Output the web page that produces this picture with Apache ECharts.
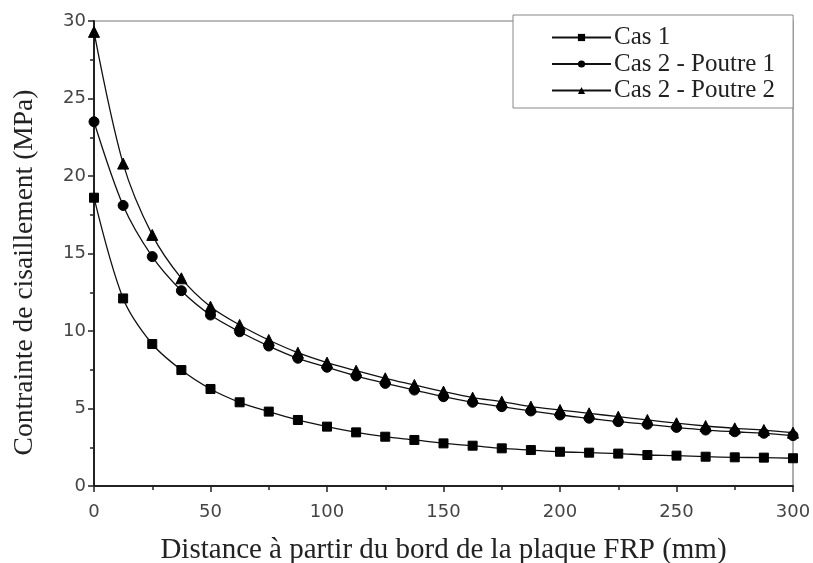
<!DOCTYPE html>
<html>
<head>
<meta charset="utf-8">
<script src="https://cdn.jsdelivr.net/npm/echarts@6/dist/echarts.min.js"></script>
<style>
  html, body { margin: 0; padding: 0; background: #fff; }
  #chart { width: 813px; height: 563px; }
</style>
</head>
<body>
<div id="chart"></div>
<script>
// Distance from the FRP plate edge (mm)
const distances = [0, 12.5, 25, 37.5, 50, 62.5, 75, 87.5, 100, 112.5, 125, 137.5, 150,
  162.5, 175, 187.5, 200, 212.5, 225, 237.5, 250, 262.5, 275, 287.5, 300];

// Shear stress (MPa)
const cas1 = [18.6, 12.1, 9.16, 7.48, 6.26, 5.4, 4.8, 4.26, 3.83, 3.46, 3.18, 2.97, 2.75,
  2.6, 2.43, 2.32, 2.21, 2.15, 2.09, 2.0, 1.96, 1.89, 1.85, 1.83, 1.79];
const cas2Poutre1 = [23.5, 18.1, 14.8, 12.6, 11.03, 9.95, 9.03, 8.24, 7.66, 7.1, 6.62, 6.19, 5.76,
  5.4, 5.12, 4.84, 4.58, 4.37, 4.15, 3.98, 3.78, 3.61, 3.5, 3.4, 3.25];
const cas2Poutre2 = [29.3, 20.8, 16.2, 13.4, 11.57, 10.39, 9.42, 8.6, 7.96, 7.44, 6.95, 6.52, 6.09,
  5.7, 5.44, 5.12, 4.9, 4.69, 4.47, 4.26, 4.05, 3.87, 3.72, 3.61, 3.44];

const seriesNames = ['Cas 1', 'Cas 2 - Poutre 1', 'Cas 2 - Poutre 2'];
const xTitle = 'Distance à partir du bord de la plaque FRP (mm)';
const yTitle = 'Contrainte de cisaillement (MPa)';

const pairs = ys => distances.map((d, i) => [d, ys[i]]);

function lineSeries(name, ys, symbol, size) {
  return {
    name: name,
    type: 'line',
    data: pairs(ys),
    smooth: 0.3,
    symbol: symbol,
    symbolSize: size,
    showAllSymbol: true,
    lineStyle: { color: '#111', width: 1.3 },
    itemStyle: { color: '#000', borderColor: '#000' },
    z: 3
  };
}

const tickFont = { fontFamily: 'DejaVu Sans', fontSize: 18, color: '#444' };
const titleFont = { fontFamily: 'Liberation Serif', color: '#222' };

const chart = echarts.init(document.getElementById('chart'));
chart.setOption({
  animation: false,
  backgroundColor: '#fff',
  grid: {
    left: 94, right: 20, top: 21, bottom: 77,
    outerBoundsMode: 'none',
    containLabel: false,
    show: true, borderColor: '#777', borderWidth: 1.2, backgroundColor: 'transparent'
  },
  legend: {
    orient: 'vertical',
    left: 513, top: 15,
    padding: [10, 18, 5, 38],
    itemGap: 1.5,
    itemWidth: 59,
    itemHeight: 9,
    backgroundColor: '#fff',
    borderColor: '#888',
    borderWidth: 1,
    textStyle: { fontFamily: 'Liberation Serif', fontSize: 25, lineHeight: 24, color: '#222', padding: [0, 0, 0, -2] },
    data: seriesNames,
    z: 10
  },
  xAxis: {
    type: 'value',
    min: 0, max: 300, interval: 50,
    name: xTitle,
    nameLocation: 'middle',
    nameGap: 50,
    nameTextStyle: Object.assign({ verticalAlign: 'top', fontSize: 29 }, titleFont),
    axisLine: { show: true, onZero: false, lineStyle: { color: '#222', width: 2 } },
    axisTick: { show: true, inside: false, length: 6, lineStyle: { color: '#222', width: 1.5 } },
    minorTick: { show: true, splitNumber: 2, length: 4, lineStyle: { color: '#222', width: 1.5 } },
    axisLabel: Object.assign({ margin: 17 }, tickFont),
    splitLine: { show: false }
  },
  yAxis: {
    type: 'value',
    min: 0, max: 30, interval: 5,
    name: yTitle,
    nameLocation: 'middle',
    nameGap: 55,
    nameTextStyle: Object.assign({ fontSize: 27.5, padding: [0, 38, 0, 0] }, titleFont),
    axisLine: { show: true, onZero: false, lineStyle: { color: '#222', width: 2 } },
    axisTick: { show: true, inside: false, length: 6, lineStyle: { color: '#222', width: 1.5 } },
    minorTick: { show: true, splitNumber: 2, length: 4, lineStyle: { color: '#222', width: 1.5 } },
    axisLabel: Object.assign({ margin: 8 }, tickFont),
    splitLine: { show: false }
  },
  series: [
    lineSeries(seriesNames[0], cas1, 'rect', 9),
    lineSeries(seriesNames[1], cas2Poutre1, 'circle', 10),
    lineSeries(seriesNames[2], cas2Poutre2, 'triangle', 11)
  ]
});
</script>
</body>
</html>
